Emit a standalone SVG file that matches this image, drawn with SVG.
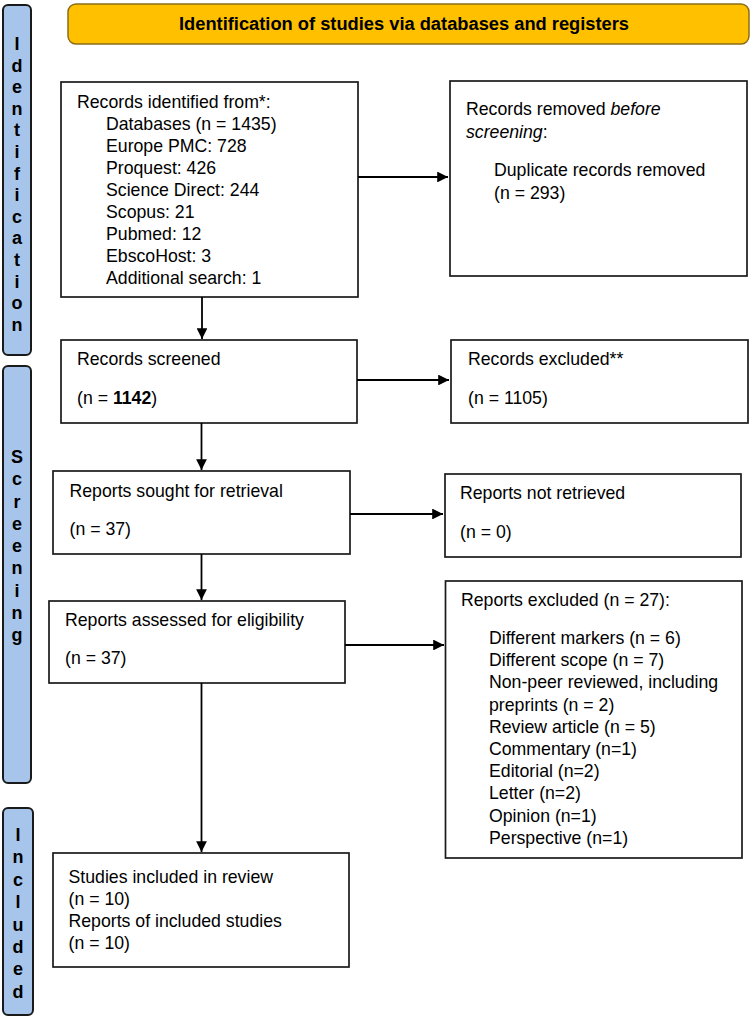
<svg xmlns="http://www.w3.org/2000/svg" width="752" height="1017" viewBox="0 0 752 1017">
<style>
.box{fill:#fff;stroke:#1a1a1a;stroke-width:1.7}
.bar{fill:#a7c5ea;stroke:#1a1a1a;stroke-width:2}
.t{font-family:"Liberation Sans",Arial,sans-serif;font-size:17.7px;fill:#000}
.lt{font-family:"Liberation Sans",Arial,sans-serif;font-size:18px;font-weight:bold;fill:#000;text-anchor:middle}
.hd{font-family:"Liberation Sans",Arial,sans-serif;font-size:18.3px;font-weight:bold;fill:#000;text-anchor:middle}
.c{stroke:#000;stroke-width:1.8;fill:none;marker-end:url(#ah)}
</style>
<defs>
<marker id="ah" viewBox="0 0 10 10" refX="10" refY="5" markerWidth="6" markerHeight="6" orient="auto" markerUnits="strokeWidth">
<path d="M0,0 L10,5 L0,10 z" fill="#000"/>
</marker>
</defs>

<g id="header">
<rect x="68" y="4" width="681" height="40" rx="8" fill="#ffc000" stroke="#8a6d1a" stroke-width="1.5"/>
<text class="hd" x="404" y="30">Identification of studies via databases and registers</text>
</g>

<g id="phase-identification">
<rect class="bar" x="3" y="5" width="28" height="350" rx="5"/>
<text class="lt"><tspan x="17" y="50">I</tspan><tspan x="17" y="71.6">d</tspan><tspan x="17" y="93.2">e</tspan><tspan x="17" y="114.8">n</tspan><tspan x="17" y="136.4">t</tspan><tspan x="17" y="158">i</tspan><tspan x="17" y="179.6">f</tspan><tspan x="17" y="201.2">i</tspan><tspan x="17" y="222.8">c</tspan><tspan x="17" y="244.4">a</tspan><tspan x="17" y="266">t</tspan><tspan x="17" y="287.6">i</tspan><tspan x="17" y="309.2">o</tspan><tspan x="17" y="330.8">n</tspan></text>
</g>

<g id="phase-screening">
<rect class="bar" x="3" y="366" width="28" height="417" rx="5"/>
<text class="lt"><tspan x="17" y="463">S</tspan><tspan x="17" y="485.2">c</tspan><tspan x="17" y="507.5">r</tspan><tspan x="17" y="529.7">e</tspan><tspan x="17" y="552">e</tspan><tspan x="17" y="574.2">n</tspan><tspan x="17" y="596.5">i</tspan><tspan x="17" y="618.7">n</tspan><tspan x="17" y="641">g</tspan></text>
</g>

<g id="phase-included">
<rect class="bar" x="3" y="808" width="30" height="207" rx="5"/>
<text class="lt"><tspan x="18" y="841">I</tspan><tspan x="18" y="863.4">n</tspan><tspan x="18" y="885.8">c</tspan><tspan x="18" y="908.2">l</tspan><tspan x="18" y="930.6">u</tspan><tspan x="18" y="953">d</tspan><tspan x="18" y="975.4">e</tspan><tspan x="18" y="997.8">d</tspan></text>
</g>

<g id="records-identified">
<rect class="box" x="61" y="82" width="297" height="215"/>
<text class="t"><tspan x="77" y="108">Records identified from*:</tspan><tspan x="106" y="130">Databases (n = 1435)</tspan><tspan x="106" y="152">Europe PMC: 728</tspan><tspan x="106" y="174">Proquest: 426</tspan><tspan x="106" y="196">Science Direct: 244</tspan><tspan x="106" y="218">Scopus: 21</tspan><tspan x="106" y="240">Pubmed: 12</tspan><tspan x="106" y="262">EbscoHost: 3</tspan><tspan x="106" y="284">Additional search: 1</tspan></text>
</g>

<g id="records-removed">
<rect class="box" x="450" y="81" width="297" height="195"/>
<text class="t"><tspan x="466" y="115">Records removed <tspan font-style="italic">before</tspan></tspan><tspan x="466" y="138"><tspan font-style="italic">screening</tspan>:</tspan><tspan x="494" y="176">Duplicate records removed</tspan><tspan x="494" y="199">(n = 293)</tspan></text>
</g>

<g id="records-screened">
<rect class="box" x="61" y="340" width="296" height="83"/>
<text class="t"><tspan x="77" y="365">Records screened</tspan><tspan x="77" y="404">(n = <tspan font-weight="bold">1142</tspan>)</tspan></text>
</g>

<g id="records-excluded">
<rect class="box" x="451" y="340" width="297" height="83"/>
<text class="t"><tspan x="468" y="365">Records excluded**</tspan><tspan x="468" y="404">(n = 1105)</tspan></text>
</g>

<g id="reports-sought">
<rect class="box" x="53" y="471" width="297" height="83"/>
<text class="t"><tspan x="69.5" y="497">Reports sought for retrieval</tspan><tspan x="69.5" y="535">(n = 37)</tspan></text>
</g>

<g id="reports-not-retrieved">
<rect class="box" x="445" y="474" width="296" height="83"/>
<text class="t"><tspan x="460" y="499">Reports not retrieved</tspan><tspan x="460" y="538">(n = 0)</tspan></text>
</g>

<g id="reports-assessed">
<rect class="box" x="49" y="601" width="296" height="82"/>
<text class="t"><tspan x="65" y="626">Reports assessed for eligibility</tspan><tspan x="65" y="664">(n = 37)</tspan></text>
</g>

<g id="reports-excluded">
<rect class="box" x="445.5" y="581" width="296.5" height="277"/>
<text class="t"><tspan x="461" y="606">Reports excluded (n = 27):</tspan><tspan x="489" y="644">Different markers (n = 6)</tspan><tspan x="489" y="666.2">Different scope (n = 7)</tspan><tspan x="489" y="688.4">Non-peer reviewed, including</tspan><tspan x="489" y="710.6">preprints (n = 2)</tspan><tspan x="489" y="732.8">Review article (n = 5)</tspan><tspan x="489" y="755">Commentary (n=1)</tspan><tspan x="489" y="777.2">Editorial (n=2)</tspan><tspan x="489" y="799.4">Letter (n=2)</tspan><tspan x="489" y="821.6">Opinion (n=1)</tspan><tspan x="489" y="843.8">Perspective (n=1)</tspan></text>
</g>

<g id="studies-included">
<rect class="box" x="53" y="853" width="296" height="114"/>
<text class="t"><tspan x="68.5" y="883">Studies included in review</tspan><tspan x="68.5" y="905">(n = 10)</tspan><tspan x="68.5" y="927">Reports of included studies</tspan><tspan x="68.5" y="949">(n = 10)</tspan></text>
</g>

<g id="connectors">
<line class="c" x1="358" y1="177" x2="448" y2="177"/>
<line class="c" x1="202" y1="297" x2="202" y2="339"/>
<line class="c" x1="357" y1="380" x2="449" y2="380"/>
<line class="c" x1="201.5" y1="423" x2="201.5" y2="470"/>
<line class="c" x1="350" y1="514" x2="443" y2="514"/>
<line class="c" x1="201.5" y1="554" x2="201.5" y2="600"/>
<line class="c" x1="345" y1="645" x2="444" y2="645"/>
<line class="c" x1="201.5" y1="683" x2="201.5" y2="852"/>
</g>
</svg>
